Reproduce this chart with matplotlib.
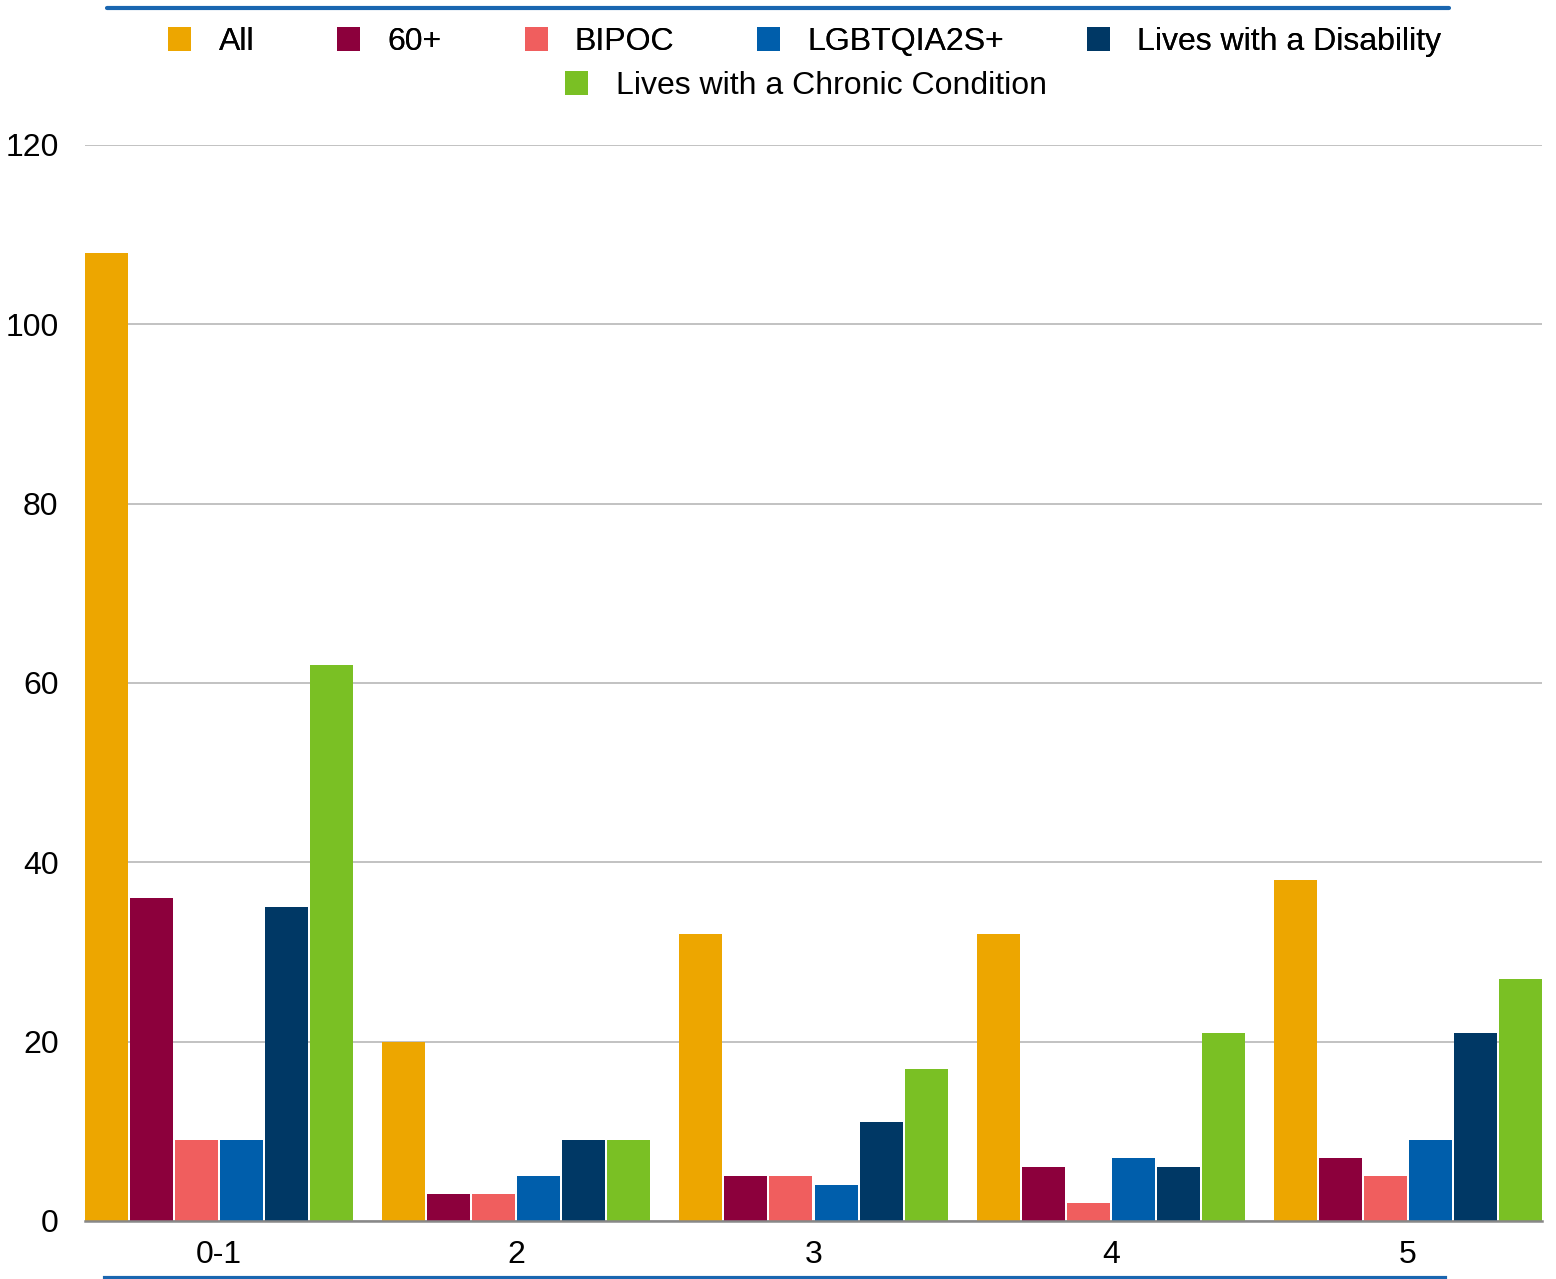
import matplotlib.pyplot as plt
import numpy as np
from matplotlib.patches import Patch
from matplotlib.lines import Line2D

plt.rcParams["font.family"] = ["Liberation Sans", "DejaVu Sans"]

# ── Datos ────────────────────────────────────────────────────────────────────
categorias = ["0-1", "2", "3", "4", "5"]
series = ["All", "60+", "BIPOC", "LGBTQIA2S+", "Lives with a Disability",
          "Lives with a Chronic Condition"]

v_all        = [108, 20, 32, 32, 38]
v_60         = [36, 3, 5, 6, 7]
v_bipoc      = [9, 3, 5, 2, 5]
v_lgbt       = [9, 5, 4, 7, 9]
v_disability = [35, 9, 11, 6, 21]
v_chronic    = [62, 9, 17, 21, 27]

valores = [v_all, v_60, v_bipoc, v_lgbt, v_disability, v_chronic]
COLORES = ["#EDA600", "#8C003C", "#F05E5E", "#005EAB", "#003865", "#7AC024"]

FS = 23

# ── Figura ───────────────────────────────────────────────────────────────────
fig = plt.figure(figsize=(15.56, 12.79), dpi=100)
ax = fig.add_axes([85 / 1556, 1 - 1221 / 1279, (1542 - 85) / 1556, (1221 - 145) / 1279])

x = np.arange(len(categorias))
paso = 45 / 297
ancho = 43 / 297
for i, (vals, col) in enumerate(zip(valores, COLORES)):
    ax.bar(x + (i - 2.5) * paso, vals, width=ancho, color=col, zorder=3)

ax.set_ylim(0, 120)
ax.set_yticks(range(0, 121, 20))
ax.set_xlim(-2.5 * paso - ancho / 2, 4 + 2.5 * paso + ancho / 2)
ax.set_xticks(x)
ax.set_xticklabels(categorias)

ax.grid(axis="y", color="#C2C2C2", linewidth=1.4, zorder=0)
for s in ["top", "right", "left"]:
    ax.spines[s].set_visible(False)
ax.spines["bottom"].set_color("#888888")
ax.spines["bottom"].set_linewidth(1.8)
ax.spines["bottom"].set_zorder(4)

ax.tick_params(axis="both", length=0, labelsize=FS, colors="#000000")
ax.tick_params(axis="y", pad=19)
ax.tick_params(axis="x", pad=13.5)

# ── Leyenda ──────────────────────────────────────────────────────────────────
handles = [Patch(facecolor=c, edgecolor="none") for c in COLORES]
leg_kw = dict(frameon=False, fontsize=FS, handlelength=0.72, handleheight=0.75,
              handletextpad=0.85, columnspacing=2.6, borderpad=0, loc="center")

leg1 = fig.legend(handles[:5], series[:5], ncol=5,
                  bbox_to_anchor=(805 / 1556, 1 - 42 / 1279), **leg_kw)
fig.add_artist(leg1)
fig.legend(handles[5:], series[5:], ncol=1,
           bbox_to_anchor=(806 / 1556, 1 - 86 / 1279), **leg_kw)

# ── Líneas decorativas ───────────────────────────────────────────────────────
fig.add_artist(Line2D([107 / 1556, 1449 / 1556], [1 - 8 / 1279] * 2,
                      color="#1A66B0", linewidth=3, solid_capstyle="round"))
fig.add_artist(Line2D([105 / 1556, 1445 / 1556], [1 - 1278 / 1279] * 2,
                      color="#1A66B0", linewidth=3))

fig.savefig("out.png", dpi=100)
